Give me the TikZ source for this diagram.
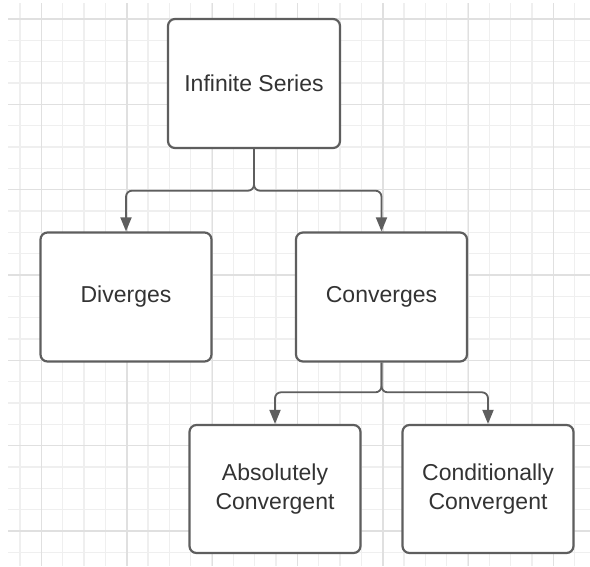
\documentclass[tikz,border=0pt]{standalone}
\usepackage{fontspec}
\setmainfont{Liberation Sans}
\usetikzlibrary{arrows.meta}
\definecolor{minorgrid}{HTML}{EFEFEF}
\definecolor{majorgrid}{HTML}{E0E0E0}
\definecolor{boxline}{HTML}{5E5E5E}
\definecolor{txt}{HTML}{333333}
\tikzset{
  box/.style={draw=boxline, line width=2.2pt, rounded corners=7pt, fill=white,
    minimum width=171pt, minimum height=128pt, align=center, text=txt,
    font=\fontsize{23}{29}\selectfont, inner sep=0pt},
  conn/.style={draw=boxline, line width=1.8pt, rounded corners=6pt,
    -{Triangle[length=14pt,width=11pt]}},
}
\begin{document}
\begin{tikzpicture}[x=1pt,y=-1pt]
\fill[white] (0,0) rectangle (590,566);
\useasboundingbox (0,0) rectangle (590,566);
% grid
\foreach \i in {0,...,26} {
  \pgfmathsetmacro{\yy}{19+21.333*\i}
  \draw[minorgrid, line width=1.2pt] (8,\yy) -- (590,\yy);
}
\foreach \i in {0,...,27} {
  \pgfmathsetmacro{\xx}{20+21.333*\i}
  \draw[minorgrid, line width=1.2pt] (\xx,3) -- (\xx,566);
}
\foreach \i in {0,...,6} {
  \pgfmathsetmacro{\yy}{19+85.333*\i}
  \draw[majorgrid, line width=1.4pt] (8,\yy) -- (590,\yy);
}
\foreach \i in {0,...,6} {
  \pgfmathsetmacro{\xx}{41.7+85.333*\i}
  \draw[majorgrid, line width=1.4pt] (\xx,3) -- (\xx,566);
}
% boxes
\node[box, minimum width=172pt, minimum height=129pt] (inf) at (254,83.5) {Infinite Series};
\node[box, minimum height=129pt] (div) at (126,297) {Diverges};
\node[box, minimum height=129pt] (conv) at (381.5,297) {Converges};
\node[box] (abs) at (275,489) {Absolutely\\Convergent};
\node[box] (cond) at (488,489) {Conditionally\\Convergent};
% connectors
\coordinate (j1) at (254,190.7);
\coordinate (j2) at (381.5,392.3);
\draw[conn] (inf.south) -- (j1) -| (div.north);
\draw[conn] (inf.south) -- (j1) -| (conv.north);
\draw[conn] (conv.south) -- (j2) -| (abs.north);
\draw[conn] (conv.south) -- (j2) -| (cond.north);
\end{tikzpicture}
\end{document}
